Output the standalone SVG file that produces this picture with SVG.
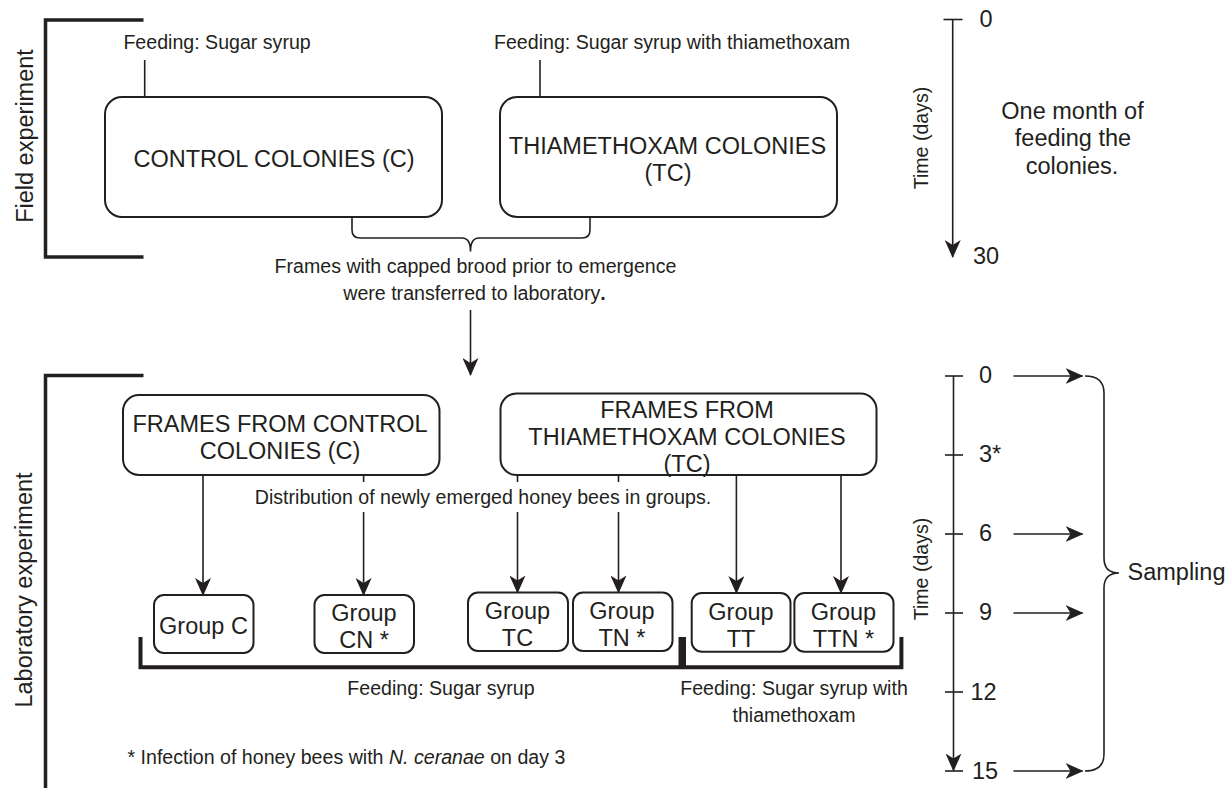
<svg xmlns="http://www.w3.org/2000/svg" width="1225" height="788" viewBox="0 0 1225 788">
<style>
  text { font-family: "Liberation Sans", Arial, Helvetica, sans-serif; fill: #231f20; }
  .big { font-size: 23.5px; }
  .sm { font-size: 19.6px; }
  .mid { text-anchor: middle; }
  .box { fill: #ffffff; stroke: #231f20; stroke-width: 2; }
  .ln { fill: none; stroke: #231f20; stroke-width: 1.6; }
  .thick { fill: none; stroke: #231f20; stroke-width: 3.5; }
  .brk { fill: none; stroke: #231f20; stroke-width: 4; }
</style>
<defs>
  <marker id="ah" markerUnits="userSpaceOnUse" viewBox="0 0 18 16" markerWidth="18" markerHeight="16" refX="17" refY="8" orient="auto">
    <path d="M0,0 L18,8 L0,16 L5,8 Z" fill="#231f20"/>
  </marker>
</defs>
<rect width="1225" height="788" fill="#ffffff"/>

<!-- Section brackets and side labels -->
<g id="field-section">
  <path class="thick" d="M143.5,20 H45.5 V257 H143.5"/>
  <text class="big mid" transform="translate(33,136) rotate(-90)">Field experiment</text>
</g>
<g id="lab-section">
  <path class="thick" d="M143.5,375.5 H45.5 V788"/>
  <text class="big mid" transform="translate(32,590) rotate(-90)">Laboratory experiment</text>
</g>

<!-- Field nodes -->
<g id="control-colonies">
  <text class="sm" x="123.4" y="49">Feeding: Sugar syrup</text>
  <rect class="box" x="105" y="97" width="337" height="120" rx="17"/>
  <text class="big mid" x="274" y="167">CONTROL COLONIES (C)</text>
</g>
<g id="thiamethoxam-colonies">
  <text class="sm" x="494" y="49">Feeding: Sugar syrup with thiamethoxam</text>
  <rect class="box" x="500" y="97" width="337" height="120" rx="17"/>
  <text class="big mid" x="667.5" y="154">THIAMETHOXAM COLONIES</text>
  <text class="big mid" x="668" y="181">(TC)</text>
</g>
<g id="transfer-note">
  <text class="sm mid" x="475.5" y="273">Frames with capped brood prior to emergence</text>
  <text class="sm mid" x="474.5" y="300">were transferred to laboratory<tspan font-weight="bold">.</tspan></text>
</g>

<!-- Field timeline -->
<g id="field-timeline">
  <line class="ln" x1="943.5" y1="19.5" x2="962.5" y2="19.5"/>
  <line class="ln" x1="952.7" y1="19.5" x2="952.7" y2="257" marker-end="url(#ah)"/>
  <text class="big" x="979.5" y="27">0</text>
  <text class="big" x="973" y="264">30</text>
  <text class="sm mid" transform="translate(927.5,138) rotate(-90)">Time (days)</text>
  <text class="big mid" x="1072.5" y="119">One month of</text>
  <text class="big mid" x="1073" y="146">feeding the</text>
  <text class="big mid" x="1072" y="173.5">colonies.</text>
</g>

<!-- Lab nodes -->
<g id="frames-control">
  <rect class="box" x="123" y="395" width="316.5" height="80" rx="16"/>
  <text class="big mid" x="280" y="432">FRAMES FROM CONTROL</text>
  <text class="big mid" x="280" y="459">COLONIES (C)</text>
</g>
<g id="frames-thiamethoxam">
  <rect class="box" x="500.5" y="393.5" width="376" height="81.5" rx="16"/>
  <text class="big mid" x="687" y="418">FRAMES FROM</text>
  <text class="big mid" x="687" y="445">THIAMETHOXAM COLONIES</text>
  <text class="big mid" x="687" y="472">(TC)</text>
</g>
<g id="distribution-note">
  <text class="sm mid" x="483" y="504">Distribution of newly emerged honey bees in groups.</text>
</g>

<g id="group-c">
  <rect class="box" x="154" y="595" width="99.5" height="58" rx="10"/>
  <text class="big mid" x="203.5" y="634">Group C</text>
</g>
<g id="group-cn">
  <rect class="box" x="314.5" y="595" width="99.5" height="58" rx="10"/>
  <text class="big mid" x="364" y="620.5">Group</text>
  <text class="big mid" x="364" y="647.5">CN *</text>
</g>
<g id="group-tc">
  <rect class="box" x="468" y="592.5" width="100" height="58.5" rx="10"/>
  <text class="big mid" x="517.5" y="619">Group</text>
  <text class="big mid" x="517.5" y="646">TC</text>
</g>
<g id="group-tn">
  <rect class="box" x="573" y="592.5" width="99.5" height="58.5" rx="10"/>
  <text class="big mid" x="622" y="619">Group</text>
  <text class="big mid" x="622" y="646">TN *</text>
</g>
<g id="group-tt">
  <rect class="box" x="691.7" y="593" width="98.8" height="58.7" rx="10"/>
  <text class="big mid" x="741" y="619.5">Group</text>
  <text class="big mid" x="741" y="646.5">TT</text>
</g>
<g id="group-ttn">
  <rect class="box" x="794.4" y="593" width="99.1" height="58.7" rx="10"/>
  <text class="big mid" x="843.5" y="619.5">Group</text>
  <text class="big mid" x="843.5" y="646.5">TTN *</text>
</g>

<g id="feeding-sugar">
  <path class="brk" d="M140.5,637 V667.3 H680.5 V637"/>
  <text class="sm mid" x="441" y="695">Feeding: Sugar syrup</text>
</g>
<g id="feeding-thiamethoxam">
  <path class="brk" d="M684,637 V667.3 H901.4 V637"/>
  <text class="sm mid" x="794" y="695">Feeding: Sugar syrup with</text>
  <text class="sm mid" x="794" y="722">thiamethoxam</text>
</g>

<g id="footnote">
  <text class="sm" x="127.5" y="764">* Infection of honey bees with <tspan font-style="italic">N. ceranae</tspan> on day 3</text>
</g>

<!-- Lab timeline -->
<g id="lab-timeline">
  <line class="ln" x1="953.5" y1="376" x2="953.5" y2="770.5" marker-end="url(#ah)"/>
  <line class="ln" x1="945" y1="376" x2="963" y2="376"/>
  <line class="ln" x1="945" y1="455" x2="963" y2="455"/>
  <line class="ln" x1="945" y1="534" x2="963" y2="534"/>
  <line class="ln" x1="945" y1="613" x2="963" y2="613"/>
  <line class="ln" x1="945" y1="692" x2="963" y2="692"/>
  <line class="ln" x1="945" y1="771" x2="963" y2="771"/>
  <text class="big" x="979" y="383">0</text>
  <text class="big" x="979" y="462">3*</text>
  <text class="big" x="979" y="541">6</text>
  <text class="big" x="979" y="620">9</text>
  <text class="big" x="970.5" y="699.5">12</text>
  <text class="big" x="972" y="778.5">15</text>
  <text class="sm mid" transform="translate(928,569) rotate(-90)">Time (days)</text>
</g>
<g id="sampling">
  <path class="ln" d="M1085,376 Q1104,376 1104,393 V558 Q1104,573 1119,573 Q1104,573 1104,588 V754 Q1104,771 1085,771"/>
  <text class="big" x="1127.5" y="580">Sampling</text>
</g>

<!-- Connectors -->
<g id="connectors">
  <line class="ln" x1="144.7" y1="60" x2="144.7" y2="97"/>
  <line class="ln" x1="540" y1="60" x2="540" y2="97"/>
  <path class="ln" d="M352,218 V230 Q352,238 360,238 H462 Q470.5,238 470.5,251.5 Q470.5,238 479,238 H582 Q590,238 590,230 V218"/>
  <line class="ln" x1="470.5" y1="310" x2="470.5" y2="375" marker-end="url(#ah)"/>

  <line class="ln" x1="203" y1="475" x2="203" y2="595" marker-end="url(#ah)"/>
  <line class="ln" x1="363.6" y1="475" x2="363.6" y2="482"/>
  <line class="ln" x1="363.6" y1="512" x2="363.6" y2="595" marker-end="url(#ah)"/>
  <line class="ln" x1="517.5" y1="475" x2="517.5" y2="482"/>
  <line class="ln" x1="517.5" y1="512" x2="517.5" y2="592.5" marker-end="url(#ah)"/>
  <line class="ln" x1="618.5" y1="475" x2="618.5" y2="482"/>
  <line class="ln" x1="618.5" y1="512" x2="618.5" y2="592.5" marker-end="url(#ah)"/>
  <line class="ln" x1="736.4" y1="475" x2="736.4" y2="593" marker-end="url(#ah)"/>
  <line class="ln" x1="841" y1="475" x2="841" y2="593" marker-end="url(#ah)"/>

  <line class="ln" x1="1013.5" y1="376" x2="1082.5" y2="376" marker-end="url(#ah)"/>
  <line class="ln" x1="1013.5" y1="534" x2="1082.5" y2="534" marker-end="url(#ah)"/>
  <line class="ln" x1="1013.5" y1="613" x2="1082.5" y2="613" marker-end="url(#ah)"/>
  <line class="ln" x1="1013.5" y1="771" x2="1082.5" y2="771" marker-end="url(#ah)"/>
</g>
</svg>
